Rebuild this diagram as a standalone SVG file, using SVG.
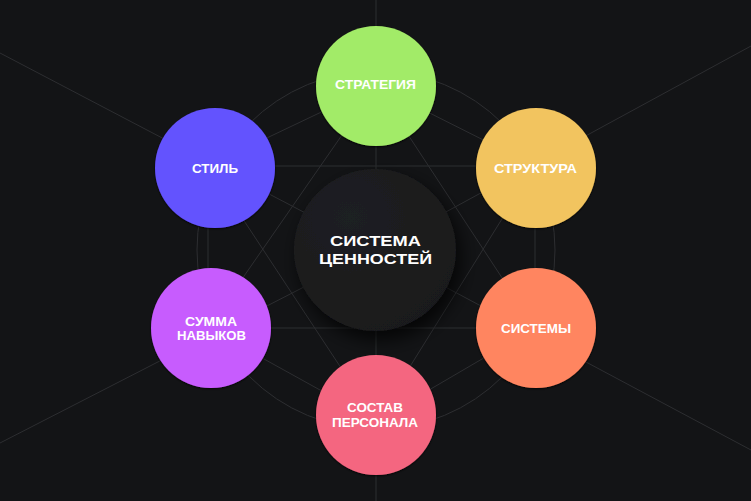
<svg xmlns="http://www.w3.org/2000/svg" width="751" height="501" viewBox="0 0 751 501">
  <defs>
    <style>
      .ln { fill: none; stroke: #2d2e31; stroke-width: 1; }
      .lbl { font-family: "Liberation Sans", Arial, sans-serif; font-weight: 700; font-size: 12.5px; fill: #ffffff; text-anchor: middle; }
      .big { font-family: "Liberation Sans", Arial, sans-serif; font-weight: 700; font-size: 15.5px; fill: #ffffff; text-anchor: middle; }
    </style>
    <filter id="sh" x="-20%" y="-20%" width="140%" height="140%">
      <feDropShadow dx="0" dy="1" stdDeviation="1.2" flood-color="#000000" flood-opacity="0.8"/>
    </filter>
    <filter id="shc" x="-40%" y="-40%" width="180%" height="180%">
      <feDropShadow dx="5" dy="9" stdDeviation="9" flood-color="#000000" flood-opacity="0.75"/>
    </filter>
    <radialGradient id="cg" cx="0.35" cy="0.3" r="0.8">
      <stop offset="0" stop-color="#1f2022"/>
      <stop offset="1" stop-color="#19191b"/>
    </radialGradient>
  </defs>
  <rect width="751" height="501" fill="#131416"/>

  <g id="connectors">
    <path class="ln" d="M376 0 V501"/>
    <path class="ln" d="M208 166 H535 M208 328 H535"/>
    <path class="ln" d="M376 86 L535 166 L535 328 L376 421 L208 328 L208 166 Z"/>
    <path class="ln" d="M376 86 L208 328 M376 86 L535 328 M208 166 L376 421 M535 166 L376 421"/>
    <path class="ln" d="M0 53 L376 250 M751 46 L376 250 M0 443 L376 250 M751 450 L376 250"/>
    <circle class="ln" cx="376" cy="250" r="179"/>
  </g>

  <g id="node-center">
    <circle cx="375" cy="250" r="81" fill="url(#cg)" filter="url(#shc)"/>
    <text class="big" x="375.5" y="246" textLength="91" lengthAdjust="spacingAndGlyphs">СИСТЕМА</text>
    <text class="big" x="375.5" y="264.3" textLength="113" lengthAdjust="spacingAndGlyphs">ЦЕННОСТЕЙ</text>
  </g>

  <g id="node-strategy">
    <circle cx="376" cy="86" r="60" fill="#a2eb67" filter="url(#sh)"/>
    <text class="lbl" x="375.5" y="89" textLength="81" lengthAdjust="spacingAndGlyphs">СТРАТЕГИЯ</text>
  </g>

  <g id="node-style">
    <circle cx="215" cy="168" r="60" fill="#6452fe" filter="url(#sh)"/>
    <text class="lbl" x="215" y="172.5" textLength="46" lengthAdjust="spacingAndGlyphs">СТИЛЬ</text>
  </g>

  <g id="node-structure">
    <circle cx="536" cy="168" r="60" fill="#f2c45f" filter="url(#sh)"/>
    <text class="lbl" x="535.5" y="172.5" textLength="83" lengthAdjust="spacingAndGlyphs">СТРУКТУРА</text>
  </g>

  <g id="node-systems">
    <circle cx="536" cy="328" r="60" fill="#ff8560" filter="url(#sh)"/>
    <text class="lbl" x="536" y="332.7" textLength="70" lengthAdjust="spacingAndGlyphs">СИСТЕМЫ</text>
  </g>

  <g id="node-skills">
    <circle cx="211" cy="328" r="60" fill="#c75bfe" filter="url(#sh)"/>
    <text class="lbl" x="211" y="326" textLength="52" lengthAdjust="spacingAndGlyphs">СУММА</text>
    <text class="lbl" x="211.5" y="340" textLength="69" lengthAdjust="spacingAndGlyphs">НАВЫКОВ</text>
  </g>

  <g id="node-staff">
    <circle cx="376" cy="415" r="60" fill="#f46680" filter="url(#sh)"/>
    <text class="lbl" x="375" y="412.3" textLength="56" lengthAdjust="spacingAndGlyphs">СОСТАВ</text>
    <text class="lbl" x="375" y="426.7" textLength="86" lengthAdjust="spacingAndGlyphs">ПЕРСОНАЛА</text>
  </g>
</svg>
